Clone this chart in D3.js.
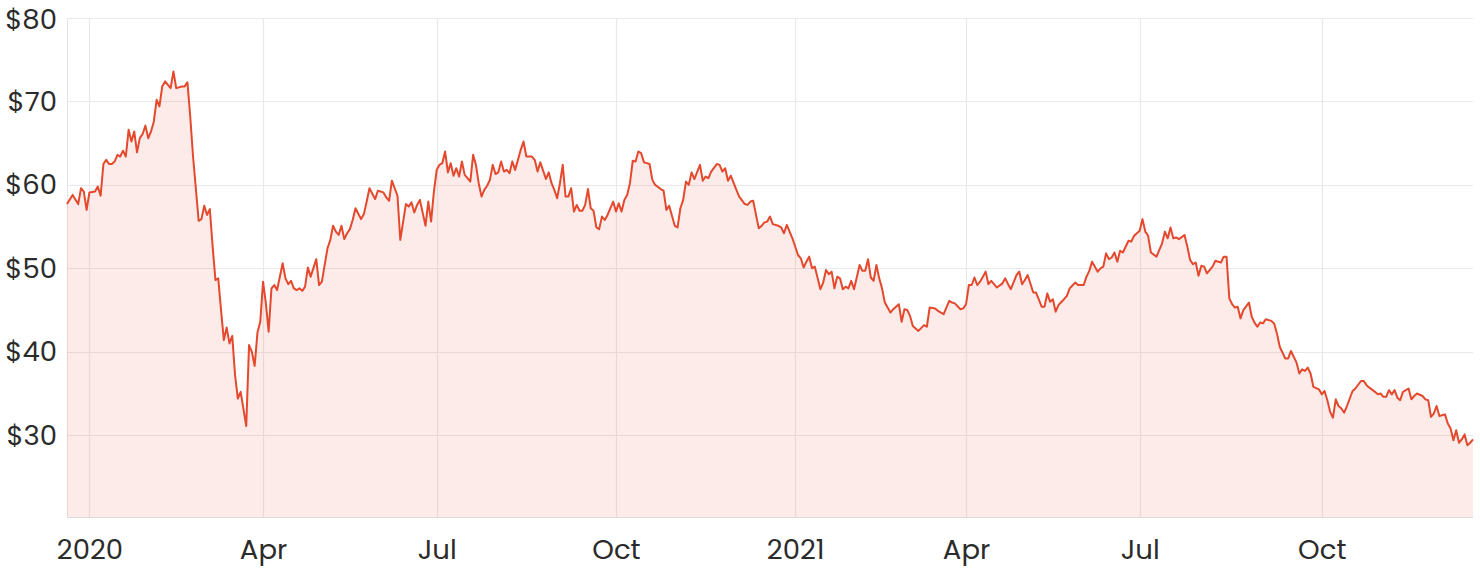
<!DOCTYPE html>
<html>
<head>
<meta charset="utf-8">
<script src="https://cdn.jsdelivr.net/npm/d3@7"></script>
<style>
  html, body { margin: 0; padding: 0; background: #ffffff; }
  svg { display: block; }
  text { font-family: Poppins, "DejaVu Sans", sans-serif; }
</style>
</head>
<body>
<svg id="chart" width="1480" height="570"></svg>
<script>
// ---- DATA (trading-session index, closing price in $) ----
const sessionIndex = [
  0,2,4,5,6,7,8,10,11,12,13,14,15,16,17,18,19,20,21,22,23,24,25,26,27,28,29,30,31,32,33,34,35,37,38,39,41,42,43,
  44,45,46,47,48,49,50,51,52,53,54,55,56,57,58,59,60,61,62,64,65,66,67,68,69,70,71,72,73,74,75,76,77,78,79,80,81,82,83,84,85,86,87,
  89,90,91,93,94,95,96,97,98,99,100,101,102,103,105,106,107,108,110,111,113,114,115,116,118,119,121,122,123,124,125,126,128,129,130,131,
  132,133,134,135,136,137,138,139,140,141,142,143,144,145,146,147,148,149,150,151,152,153,154,155,156,157,158,159,160,161,162,163,164,166,167,168,169,171,172,173,174,175,176,177,178,
  179,180,181,182,183,184,185,186,187,188,189,190,191,192,193,195,196,197,198,199,200,201,202,203,204,205,206,208,209,210,212,213,214,215,217,218,219,220,221,
  222,223,224,226,227,228,229,230,232,233,234,235,236,237,239,240,242,243,244,245,246,247,248,249,250,251,252,254,255,256,257,258,259,261,262,263,264,265,266,267,
  269,270,271,272,273,274,275,276,277,278,279,280,281,283,284,285,286,287,288,289,290,291,292,293,294,295,297,298,299,300,301,302,303,304,306,307,308,310,
  311,312,313,315,316,317,319,320,321,322,323,324,325,326,328,329,330,331,332,334,335,336,337,339,340,341,342,343,345,346,348,349,350,351,352,353,354,356,
  357,358,360,361,363,364,365,366,368,369,370,371,372,373,374,375,376,377,379,380,381,382,383,384,385,386,387,389,390,391,392,393,394,395,396,397,399,
  400,401,402,403,404,405,406,407,409,410,412,413,414,415,416,417,418,419,420,422,423,424,425,426,427,428,430,431,432,433,435,436,437,439,440,441,442,443,444,
  445,447,448,449,450,451,452,453,454,455,456,457,458,459,460,462,463,464,465,467,468,469,470,471,472,473,474,475,476,477,479,480,481,482,484,485,486,487,488,489,490,492,493,494,495,496,497,498,499,500,501,502
];
const closePrice = [
  57.7,58.8,57.7,59.6,59.2,57.0,59.1,59.2,59.8,58.7,62.5,63.0,62.5,62.5,62.8,63.6,63.4,64.1,63.4,66.6,65.2,66.4,63.9,65.6,66.1,67.1,65.6,66.4,67.6,70.2,69.4,71.8,72.4,71.6,73.6,71.6,71.8,71.8,72.3,
  68.2,63.4,59.6,55.7,55.9,57.5,56.4,57.1,52.6,48.6,48.8,45.0,41.4,42.9,41.0,41.9,37.2,34.4,35.2,31.1,40.8,40.0,38.3,42.3,43.6,48.4,45.8,42.4,47.6,48.0,47.4,49.0,50.6,48.8,48.1,48.5,47.6,47.4,47.6,47.3,47.8,50.1,49.0,
  51.1,48.0,48.4,52.4,53.4,55.1,54.4,54.0,55.1,53.5,54.2,54.7,55.8,57.2,55.9,56.5,58.0,59.6,58.3,59.3,59.1,58.5,58.1,60.5,58.7,53.4,57.7,57.4,57.9,56.7,57.6,58.2,55.1,58.0,55.6,59.2,
  61.8,62.4,62.6,64.0,61.5,62.6,61.1,62.0,61.0,62.8,61.2,60.8,60.4,63.6,62.4,60.2,58.6,59.4,59.9,60.6,62.4,61.3,61.5,62.8,61.6,61.8,61.4,62.8,61.8,63.0,64.2,65.2,63.4,63.4,63.0,61.6,62.7,60.7,61.5,60.2,59.4,58.4,60.2,62.4,58.6,
  58.6,59.6,56.8,57.6,56.9,56.9,57.6,59.5,57.2,56.9,54.9,54.7,56.2,55.8,56.4,58.0,56.8,57.8,56.8,58.2,58.8,60.2,62.9,62.8,64.0,63.8,62.7,62.5,60.6,60.0,59.5,59.3,57.0,57.5,55.1,54.9,57.2,58.2,60.4,
  60.0,61.5,60.7,62.4,60.5,61.0,60.8,61.6,62.5,62.4,61.6,62.0,60.5,61.1,59.4,58.6,57.7,57.6,58.0,58.1,56.4,54.8,55.1,55.5,55.6,56.2,55.3,55.1,54.9,54.2,55.2,54.4,53.6,51.6,51.2,50.1,50.8,51.4,50.0,50.2,
  47.5,48.3,49.8,49.3,49.6,47.6,49.0,48.8,47.5,47.8,47.6,48.5,47.5,50.4,49.7,49.7,51.1,48.9,48.5,50.4,48.8,47.6,45.9,45.3,44.7,45.1,45.7,43.6,45.1,45.0,44.3,43.1,42.8,42.5,43.2,43.0,45.3,45.2,
  44.9,44.7,44.5,46.1,45.9,45.8,45.1,45.2,45.7,48.0,48.0,48.9,48.0,48.4,49.6,48.1,48.5,48.1,47.7,48.2,48.8,48.1,47.5,49.2,49.6,48.1,48.6,49.2,47.1,47.1,45.4,45.4,47.0,46.0,46.3,44.8,45.6,46.3,
  46.7,47.6,48.3,48.0,48.0,49.0,49.7,50.8,49.6,50.0,50.2,51.8,51.1,51.3,51.9,50.8,52.1,51.9,53.3,53.2,53.9,54.2,54.5,55.9,54.4,53.9,51.9,51.4,52.2,53.0,54.4,53.6,54.9,53.6,53.7,53.5,54.0,
  52.6,51.0,50.5,50.7,49.1,50.3,50.2,49.4,50.2,50.9,50.7,51.4,51.4,46.4,45.7,45.3,45.4,44.0,45.0,45.9,44.2,43.5,43.0,43.5,43.4,43.9,43.7,43.4,42.2,40.6,39.2,39.2,40.1,38.7,37.4,37.9,37.7,38.1,37.4,
  35.8,35.5,34.9,35.3,34.2,32.8,32.1,34.3,33.5,33.2,32.7,33.5,34.4,35.3,35.6,36.5,36.5,36.0,35.7,35.2,34.9,35.0,34.6,34.6,35.4,34.9,35.4,34.5,34.2,35.2,35.6,34.3,34.7,35.0,34.7,34.3,34.2,32.2,32.6,33.5,32.3,32.5,31.4,30.8,29.4,30.6,29.1,29.5,30.1,28.8,29.1,29.5
];
const xTickIndex = [8, 70, 132, 196, 260, 321, 383, 448];
const xTickLabel = ["2020", "Apr", "Jul", "Oct", "2021", "Apr", "Jul", "Oct"];
const yTickValues = [30, 40, 50, 60, 70, 80];
const xDomain = [0, 502];
const yDomain = [20.2, 80];

(function () {
  // ---- LAYOUT ----
  const pL = 67, pR = 1473, pT = 18, pB = 517;
  const lineColor = "#e4492e";
  const fontFam = 'Poppins, "DejaVu Sans", sans-serif';
  const fontSize = 27.5;
  const textColor = "#2b2b2b";

  const svg = d3.select("#chart");
  const x = d3.scaleLinear().domain(xDomain).range([pL, pR]);
  const y = d3.scaleLinear().domain(yDomain).range([pB, pT]);

  const data = sessionIndex.map((d, i) => ({ i: d, v: closePrice[i] }));

  // grid
  const grid = svg.append("g");
  grid.selectAll("line.h").data(yTickValues).enter().append("line")
    .attr("x1", pL).attr("x2", pR)
    .attr("y1", d => Math.round(y(d)) + 0.5).attr("y2", d => Math.round(y(d)) + 0.5)
    .attr("stroke", "#e9e9e9").attr("stroke-width", 1.2);
  grid.selectAll("line.v").data(xTickIndex).enter().append("line")
    .attr("x1", d => Math.round(x(d)) + 0.5).attr("x2", d => Math.round(x(d)) + 0.5)
    .attr("y1", pT).attr("y2", pB)
    .attr("stroke", "#e9e9e9").attr("stroke-width", 1.2);
  grid.append("line").attr("x1", pL + 0.5).attr("x2", pL + 0.5).attr("y1", pT).attr("y2", pB)
    .attr("stroke", "#e4e4e4");
  grid.append("line").attr("x1", pL).attr("x2", pR).attr("y1", pB + 0.5).attr("y2", pB + 0.5)
    .attr("stroke", "#dcdcdc");

  // area
  const area = d3.area().x(d => x(d.i)).y0(y(yDomain[0])).y1(d => y(d.v));
  svg.append("path").datum(data).attr("d", area)
    .attr("fill", lineColor).attr("fill-opacity", 0.11);

  // line
  const line = d3.line().x(d => x(d.i)).y(d => y(d.v));
  svg.append("path").datum(data).attr("d", line)
    .attr("fill", "none").attr("stroke", lineColor)
    .attr("stroke-width", 2).attr("stroke-linejoin", "round");

  // y axis labels
  const yAxis = d3.axisLeft(y).tickValues(yTickValues).tickSize(0).tickPadding(10)
    .tickFormat(d => "$" + d);
  const yg = svg.append("g").attr("transform", `translate(${pL},0)`).call(yAxis);
  yg.select(".domain").remove();
  yg.selectAll("text").attr("font-size", fontSize).attr("fill", textColor).style("font-family", fontFam);
  // keep the top label fully inside the canvas
  yg.selectAll(".tick").filter(d => d === yDomain[1]).select("text").attr("y", 2);

  // x axis labels
  const xAxis = d3.axisBottom(x).tickValues(xTickIndex).tickSize(0).tickPadding(22)
    .tickFormat((d, i) => xTickLabel[i]);
  const xg = svg.append("g").attr("transform", `translate(0,${pB})`).call(xAxis);
  xg.select(".domain").remove();
  xg.selectAll("text").attr("font-size", fontSize).attr("fill", textColor).style("font-family", fontFam);
})();
</script>
</body>
</html>
